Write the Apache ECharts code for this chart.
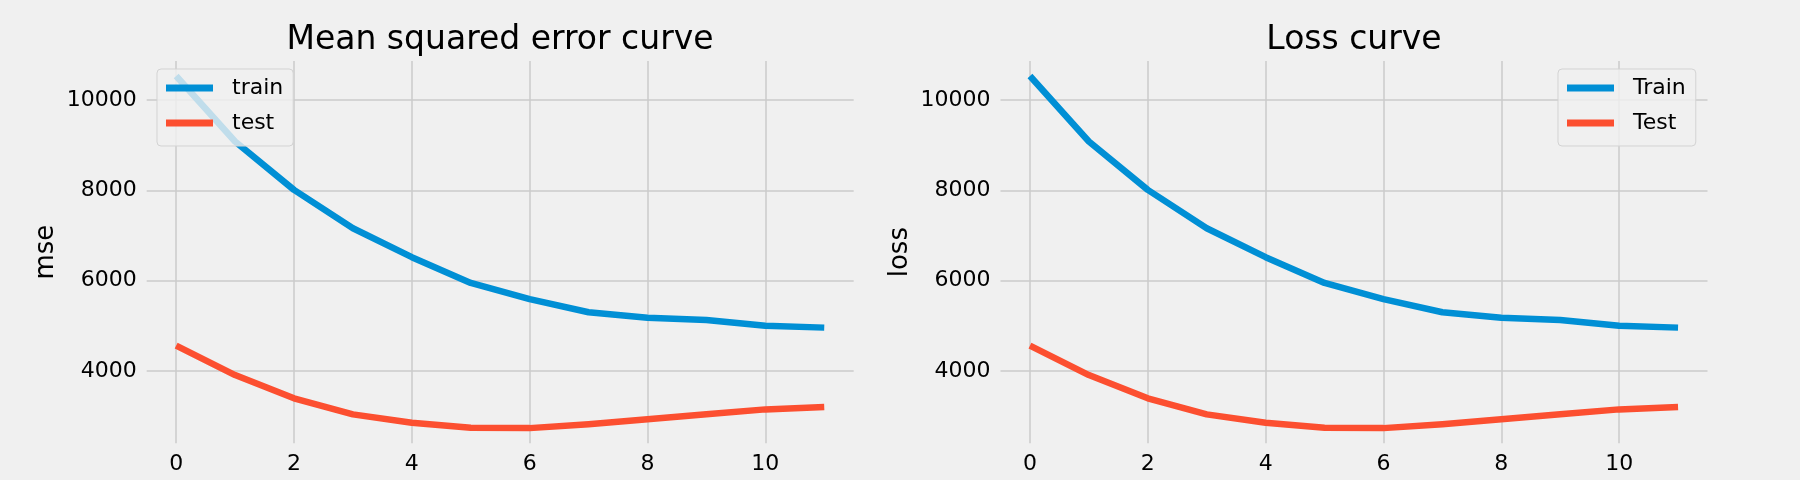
<!DOCTYPE html>
<html lang="en">

<head>
    <meta charset="UTF-8">
    <title>Mean squared error / Loss curve</title>
    <script src="https://cdn.jsdelivr.net/npm/echarts@6/dist/echarts.min.js"></script>
</head>
<style>
    html, body { margin: 0; padding: 0; background: #f0f0f0; }
</style>

<body>
    <div id="box" style="width:1800px;height:480px"></div>
</body>
<script>
    // epochs on the x axis
    const epochs = [0, 1, 2, 3, 4, 5, 6, 7, 8, 9, 10, 11];
    // left chart: mse
    const trainMse = [10530, 9080, 8010, 7160, 6520, 5950, 5590, 5300, 5180, 5130, 5000, 4960];
    const testMse = [4560, 3910, 3395, 3040, 2855, 2745, 2735, 2820, 2930, 3040, 3150, 3200];
    // right chart: loss
    const trainLoss = [10530, 9080, 8010, 7160, 6520, 5950, 5590, 5300, 5180, 5130, 5000, 4960];
    const testLoss = [4560, 3910, 3395, 3040, 2855, 2745, 2735, 2820, 2930, 3040, 3150, 3200];
    // tick labels
    const xTicks = [0, 2, 4, 6, 8, 10];
    const yTicks = [4000, 6000, 8000, 10000];

    const FONT = 'DejaVu Sans';
    const BLUE = '#008fd5';
    const RED = '#fc4f30';

    function pairs(ys) {
        return epochs.map((x, i) => [x, ys[i]]);
    }

    function xAxisOf(gridIndex) {
        return {
            type: 'value',
            gridIndex: gridIndex,
            min: -0.5,
            max: 11.5,
            axisLine: { show: false },
            axisTick: { show: false, customValues: xTicks },
            axisLabel: {
                customValues: xTicks,
                margin: 10,
                color: '#000',
                fontFamily: FONT,
                fontSize: 22,
                formatter: v => String(v)
            },
            splitLine: { show: true, lineStyle: { color: '#cbcbcb', width: 1.5 } }
        };
    }

    function yAxisOf(gridIndex, name) {
        return {
            type: 'value',
            gridIndex: gridIndex,
            min: 2399,
            max: 10863,
            name: name,
            nameLocation: 'middle',
            nameRotate: 90,
            nameGap: 87,
            nameTextStyle: { color: '#000', fontFamily: FONT, fontSize: 26 },
            axisLine: { show: false },
            axisTick: { show: false, customValues: yTicks },
            axisLabel: {
                customValues: yTicks,
                margin: 10,
                color: '#000',
                fontFamily: FONT,
                fontSize: 22,
                formatter: v => String(v)
            },
            splitLine: { show: true, lineStyle: { color: '#cbcbcb', width: 1.5 } }
        };
    }

    function lineSeries(name, data, color, idx) {
        return {
            name: name,
            type: 'line',
            xAxisIndex: idx,
            yAxisIndex: idx,
            data: pairs(data),
            symbol: 'none',
            showSymbol: false,
            color: color,
            lineStyle: { width: 6.5, color: color, join: 'round' },
            emphasis: { disabled: true },
            animation: false
        };
    }

    function legendOf(left, names) {
        return {
            left: left,
            top: 69,
            orient: 'vertical',
            data: names,
            icon: 'rect',
            itemWidth: 47,
            itemHeight: 7,
            itemGap: 13,
            padding: [8, 10, 12, 9],
            backgroundColor: 'rgba(240,240,240,0.8)',
            borderColor: '#d3d3d3',
            borderWidth: 1,
            borderRadius: 4,
            selectedMode: false,
            textStyle: {
                color: '#000',
                fontFamily: FONT,
                fontSize: 22,
                lineHeight: 22,
                padding: [0, 0, 0, 14]
            }
        };
    }

    var myChart = echarts.init(document.getElementById('box'));
    var option = {
        backgroundColor: '#f0f0f0',
        animation: false,
        title: [
            {
                text: 'Mean squared error curve',
                left: 500, top: 24, padding: 0, textAlign: 'center',
                textStyle: { color: '#000', fontFamily: FONT, fontSize: 33, fontWeight: 'normal' }
            },
            {
                text: 'Loss curve',
                left: 1354, top: 24, padding: 0, textAlign: 'center',
                textStyle: { color: '#000', fontFamily: FONT, fontSize: 33, fontWeight: 'normal' }
            }
        ],
        legend: [
            legendOf(157, ['train', 'test']),
            legendOf(1558, ['Train', 'Test'])
        ],
        grid: [
            { left: 146.7, top: 61, width: 707, height: 382.3 },
            { left: 1000.5, top: 61, width: 707, height: 382.3 }
        ],
        xAxis: [xAxisOf(0), xAxisOf(1)],
        yAxis: [yAxisOf(0, 'mse'), yAxisOf(1, 'loss')],
        series: [
            lineSeries('train', trainMse, BLUE, 0),
            lineSeries('test', testMse, RED, 0),
            lineSeries('Train', trainLoss, BLUE, 1),
            lineSeries('Test', testLoss, RED, 1)
        ]
    };
    myChart.setOption(option);
</script>

</html>
